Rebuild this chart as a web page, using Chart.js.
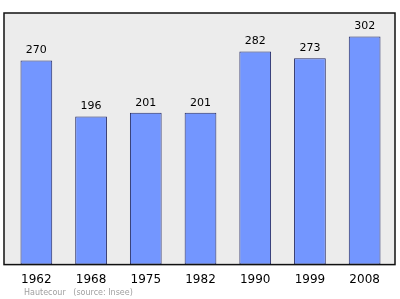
<!DOCTYPE html>
<html>
<head>
<meta charset="utf-8">
<script src="https://cdn.jsdelivr.net/npm/chart.js@4.4.0/dist/chart.umd.min.js"></script>
<style>
  html, body { margin: 0; padding: 0; background: #fff; }
  #wrap { width: 400px; height: 299px; position: relative; }
</style>
</head>
<body>
<div id="wrap"><canvas id="pop"></canvas></div>
<script>
const years = ['1962', '1968', '1975', '1982', '1990', '1999', '2008'];
const population = [270, 196, 201, 201, 282, 273, 302];
const yMax = 333;
const footerText = 'Hautecour   (source: Insee)';

// frame + background behind the bars
const framePlugin = {
    id: 'frame',
    beforeDatasetsDraw(chart) {
        const a = chart.chartArea;
        const ctx = chart.ctx;
        ctx.save();
        ctx.fillStyle = '#ececec';
        ctx.fillRect(a.left - 5, a.top, a.right - a.left + 8, a.bottom - a.top);
        ctx.restore();
    },
    afterDatasetsDraw(chart) {
        const a = chart.chartArea;
        const ctx = chart.ctx;
        ctx.save();
        ctx.strokeStyle = '#111';
        ctx.lineWidth = 1.5;
        ctx.strokeRect(a.left - 5, a.top, a.right - a.left + 8, a.bottom - a.top);

        // value labels over each bar
        const meta = chart.getDatasetMeta(0);
        ctx.fillStyle = '#000';
        ctx.font = '11px "DejaVu Sans"';
        ctx.textAlign = 'center';
        ctx.textBaseline = 'middle';
        meta.data.forEach((bar, i) => {
            ctx.fillText(population[i], bar.x, bar.y - 10);
        });

        // footer
        ctx.fillStyle = '#a0a0a0';
        ctx.font = '8px "DejaVu Sans"';
        ctx.textAlign = 'left';
        ctx.fillText(footerText, 24, 293);
        ctx.restore();
    }
};

new Chart(document.getElementById('pop'), {
    type: 'bar',
    data: {
        labels: years,
        datasets: [{
            data: population,
            backgroundColor: '#7396ff',
            borderColor: '#262c66',
            borderWidth: 1,
            borderSkipped: false,
            barPercentage: 0.58,
            categoryPercentage: 1
        }]
    },
    options: {
        responsive: true,
        maintainAspectRatio: false,
        animation: false,
        layout: { padding: { left: 9, right: 8, top: 13, bottom: 12 } },
        plugins: { legend: { display: false }, tooltip: { enabled: false } },
        scales: {
            x: {
                grid: { display: false },
                border: { display: false },
                ticks: { color: '#000', font: { family: 'DejaVu Sans', size: 12 }, padding: 0 }
            },
            y: { display: false, min: 0, max: yMax }
        }
    },
    plugins: [framePlugin]
});
</script>
</body>
</html>
